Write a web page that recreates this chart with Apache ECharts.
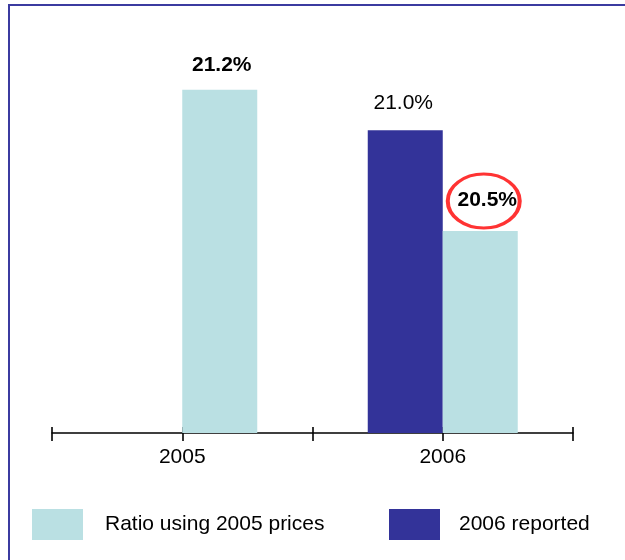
<!DOCTYPE html>
<html>
<head>
<meta charset="utf-8">
<script src="https://cdn.jsdelivr.net/npm/echarts@6/dist/echarts.min.js"></script>
<style>
  html, body { margin: 0; padding: 0; background: #fff; }
  #chart { width: 625px; height: 560px; }
</style>
</head>
<body>
<div id="chart"></div>
<script>
const categories = ['2005', '2006'];
const seriesNames = ['Ratio using 2005 prices', '2006 reported'];
const ratio2005Prices = [21.2, 20.5];
const reported2006 = [null, 21.0];
const highlightIndex = 1; // 20.5% circled in red

const FONT = 'Liberation Sans, Arial, sans-serif';
const LIGHT = '#BAE0E3';
const DARK = '#333399';

const chart = echarts.init(document.getElementById('chart'));

function tickAxis(align, inside, len, showLine, showLabel) {
  return {
    type: 'category',
    data: categories,
    position: 'bottom',
    boundaryGap: true,
    axisLine: { show: showLine, onZero: false, lineStyle: { color: '#000', width: 1.5 } },
    axisTick: { show: true, interval: 0, alignWithLabel: align, inside: inside, length: len,
                lineStyle: { color: '#000', width: 1.6 } },
    axisLabel: { show: showLabel, margin: 14, fontSize: 21, color: '#000', fontFamily: FONT },
    splitLine: { show: false }
  };
}

const lightData = ratio2005Prices.map((v, i) => {
  if (i === highlightIndex) {
    return { value: v, label: { distance: 20, offset: [7, 0] } };
  }
  return { value: v, label: { distance: 14, offset: [2, 0] } };
});
const darkData = reported2006.map(v => ({ value: v, label: { distance: 16, offset: [-2, 0] } }));

const option = {
  animation: false,
  backgroundColor: '#fff',
  graphic: [{
    type: 'rect',
    shape: { x: 9, y: 5, width: 700, height: 700 },
    style: { fill: 'none', stroke: '#3b3ba0', lineWidth: 2 },
    silent: true,
    z: 100
  }],
  grid: { left: 52, right: 52, top: 9, bottom: 127 },
  xAxis: [
    tickAxis(false, false, 8, true, true),
    tickAxis(false, true, 6, false, false),
    tickAxis(true, false, 8, false, false),
    tickAxis(true, true, 6, false, false)
  ],
  yAxis: { type: 'value', min: 19.5, max: 21.6, show: false, splitLine: { show: false } },
  legend: [
    {
      data: [seriesNames[0]],
      left: 32, top: 509, padding: 0,
      itemWidth: 51, itemHeight: 31,
      icon: 'rect',
      textStyle: { fontSize: 21, color: '#000', fontFamily: FONT, padding: [0, 0, 0, 17] }
    },
    {
      data: [seriesNames[1]],
      left: 389, top: 509, padding: 0,
      itemWidth: 51, itemHeight: 31,
      icon: 'rect',
      textStyle: { fontSize: 21, color: '#000', fontFamily: FONT, padding: [0, 0, 0, 14] }
    }
  ],
  series: [
    {
      name: seriesNames[1],
      type: 'bar',
      xAxisIndex: 0,
      data: darkData,
      barWidth: 75,
      barGap: '0%',
      itemStyle: { color: DARK },
      label: { show: true, position: 'top', fontSize: 21, color: '#000', fontFamily: FONT,
               formatter: p => p.value == null ? '' : p.value.toFixed(1) + '%' }
    },
    {
      name: seriesNames[0],
      type: 'bar',
      xAxisIndex: 0,
      data: lightData,
      barWidth: 75,
      barGap: '0%',
      itemStyle: { color: LIGHT },
      label: { show: true, position: 'top', fontSize: 21, fontWeight: 'bold', color: '#000', fontFamily: FONT,
               formatter: p => p.value.toFixed(1) + '%' }
    },
    {
      name: 'highlight',
      type: 'scatter',
      xAxisIndex: 0,
      data: [[categories[highlightIndex], ratio2005Prices[highlightIndex]]],
      symbol: 'circle',
      symbolSize: [72, 54],
      symbolOffset: [41, -30],
      itemStyle: { color: 'rgba(0,0,0,0)', borderColor: '#FF0000', borderWidth: 3.5 },
      silent: true,
      z: 5
    }
  ]
};

chart.setOption(option);
</script>
</body>
</html>
